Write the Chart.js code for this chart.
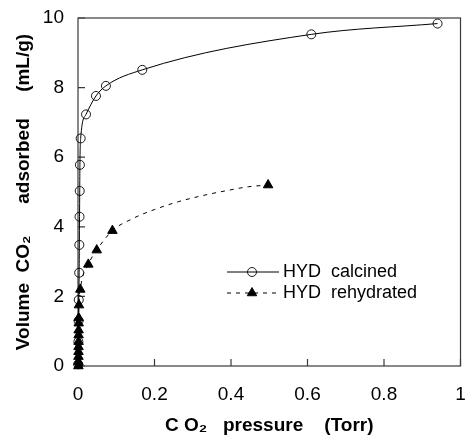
<!DOCTYPE html>
<html><head><meta charset="utf-8">
<script src="https://cdn.jsdelivr.net/npm/chart.js@4"></script>
<style>html,body{margin:0;padding:0;background:#fff}</style>
</head><body>
<canvas id="c" width="467" height="437"></canvas>
<script>
// ---- data ----
const seriesNames = ["HYD  calcined", "HYD  rehydrated"];
const calcinedX = [0.0005, 0.001, 0.0015, 0.002, 0.003, 0.0035, 0.004, 0.0045, 0.005, 0.007, 0.021, 0.047, 0.073, 0.168, 0.610, 0.940];
const calcinedY = [0.05, 0.7, 1.3, 1.90, 2.68, 3.48, 4.29, 5.03, 5.78, 6.54, 7.23, 7.76, 8.05, 8.51, 9.53, 9.84];
const rehydratedX = [0.0010, 0.0011, 0.0012, 0.0013, 0.0014, 0.0015, 0.0016, 0.0017, 0.0018, 0.0019, 0.0025, 0.006, 0.027, 0.049, 0.090, 0.497];
const rehydratedY = [0.00, 0.12, 0.27, 0.41, 0.55, 0.70, 0.89, 1.03, 1.23, 1.38, 1.75, 2.20, 2.92, 3.33, 3.89, 5.20];
// dashed fitted curve of the rehydrated series
const rehydratedFitX = [0.0010, 0.0019, 0.0025, 0.006, 0.027, 0.049, 0.090, 0.140, 0.201, 0.262, 0.323, 0.384, 0.445, 0.497];
const rehydratedFitY = [0.00, 1.38, 1.75, 2.20, 2.92, 3.33, 3.89, 4.22, 4.50, 4.72, 4.89, 5.03, 5.15, 5.20];
const xTickLabels = ["0", "0.2", "0.4", "0.6", "0.8", "1"];
const yTickLabels = ["0", "2", "4", "6", "8", "10"];
const xTitle = "C O\u2082   pressure    (Torr)";
const yTitle = "Volume  CO\u2082      adsorbed     (mL/g)";

const FONT = "'Liberation Sans', Arial, sans-serif";
const toPts = (xs, ys) => xs.map((x, i) => ({x: x, y: ys[i]}));

const framePlugin = {
  id: 'frame',
  beforeDatasetsDraw(chart) {
    const {ctx, chartArea: a, scales} = chart;
    ctx.save();
    ctx.strokeStyle = '#3a3a3a';
    ctx.lineWidth = 1.2;
    ctx.strokeRect(a.left, a.top, a.right - a.left, a.bottom - a.top);
    ctx.beginPath();
    scales.x.ticks.forEach(t => {
      const px = scales.x.getPixelForValue(t.value);
      ctx.moveTo(px, a.bottom); ctx.lineTo(px, a.bottom - 7);
    });
    scales.y.ticks.forEach(t => {
      const py = scales.y.getPixelForValue(t.value);
      ctx.moveTo(a.left, py); ctx.lineTo(a.left + 7, py);
    });
    ctx.stroke();
    ctx.restore();
  },
  afterDatasetsDraw(chart) {
    const {ctx} = chart;
    const entries = [
      {label: seriesNames[0], dash: [], style: 'circle', r: 4.5, fill: false},
      {label: seriesNames[1], dash: [4, 5], style: 'triangle', r: 5.5, fill: true}
    ];
    const rows = [272, 293];
    ctx.save();
    entries.forEach((e, i) => {
      const y = rows[i];
      ctx.strokeStyle = '#000';
      ctx.lineWidth = 1;
      ctx.setLineDash(e.dash);
      ctx.beginPath(); ctx.moveTo(227, y); ctx.lineTo(279, y); ctx.stroke();
      ctx.setLineDash([]);
      ctx.fillStyle = e.fill ? '#000' : 'rgba(0,0,0,0)';
      ctx.strokeStyle = '#000';
      ctx.lineWidth = 0.9;
      Chart.helpers.drawPoint(ctx, {pointStyle: e.style, radius: e.r, borderWidth: 0.9}, 252, y);
      ctx.fillStyle = '#000';
      ctx.font = '18px ' + FONT;
      ctx.textBaseline = 'middle';
      ctx.textAlign = 'left';
      ctx.fillText(e.label, 283, y);
    });
    ctx.restore();
  }
};

new Chart(document.getElementById('c'), {
  type: 'scatter',
  data: {
    datasets: [
      {
        label: seriesNames[0],
        data: toPts(calcinedX, calcinedY),
        showLine: true,
        borderColor: '#000',
        borderWidth: 1,
        backgroundColor: 'rgba(0,0,0,0)',
        pointStyle: 'circle',
        pointRadius: 4.5,
        pointBorderColor: '#000',
        pointBorderWidth: 0.9,
        pointBackgroundColor: 'rgba(0,0,0,0)',
        cubicInterpolationMode: 'monotone',
        clip: false
      },
      {
        label: seriesNames[1] + ' fit',
        data: toPts(rehydratedFitX, rehydratedFitY),
        showLine: true,
        borderColor: '#000',
        borderWidth: 1,
        borderDash: [4, 5],
        pointRadius: 0,
        cubicInterpolationMode: 'monotone',
        clip: false
      },
      {
        label: seriesNames[1],
        data: toPts(rehydratedX, rehydratedY),
        showLine: false,
        pointStyle: 'triangle',
        pointRadius: 5.5,
        pointBorderColor: '#000',
        pointBorderWidth: 1,
        pointBackgroundColor: '#000',
        clip: false
      }
    ]
  },
  options: {
    responsive: false,
    animation: false,
    devicePixelRatio: 1,
    layout: {padding: {top: 18, right: 6, left: 0, bottom: 0}},
    plugins: {legend: {display: false}, tooltip: {enabled: false}},
    scales: {
      x: {
        type: 'linear', min: 0, max: 1,
        border: {display: false},
        grid: {display: false, drawTicks: false},
        ticks: {
          stepSize: 0.2, padding: 17, color: '#000', maxRotation: 0,
          font: {family: FONT, size: 19},
          callback: (v, i) => xTickLabels[i]
        },
        title: {display: true, text: xTitle, color: '#000',
          font: {family: FONT, size: 19, weight: 'bold'}, padding: {top: 0, bottom: 0}},
        afterFit: s => { s.height = 71; s.paddingLeft = 0; s.paddingRight = 0; }
      },
      y: {
        type: 'linear', min: 0, max: 10,
        border: {display: false},
        grid: {display: false, drawTicks: false},
        ticks: {
          stepSize: 2, padding: 14, color: '#000',
          font: {family: FONT, size: 19},
          callback: (v, i) => yTickLabels[i]
        },
        title: {display: true, text: yTitle, color: '#000',
          font: {family: FONT, size: 19, weight: 'bold'}, padding: {top: 12, bottom: 0}},
        afterFit: s => { s.width = 78; s.paddingTop = 0; s.paddingBottom = 0; }
      }
    }
  },
  plugins: [framePlugin]
});
</script>
</body></html>
